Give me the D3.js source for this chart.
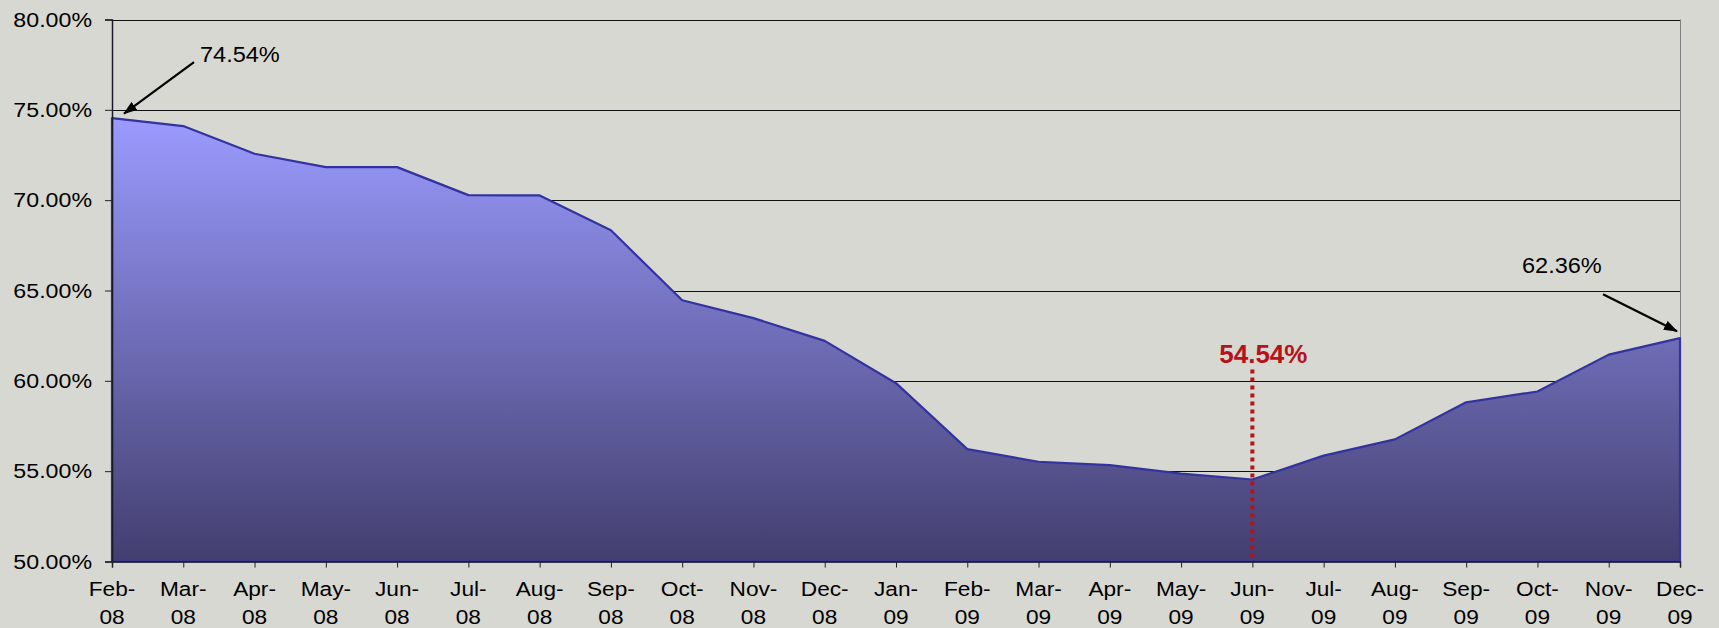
<!DOCTYPE html>
<html>
<head>
<meta charset="utf-8">
<script src="https://cdn.jsdelivr.net/npm/d3@7"></script>
<style>
  html, body { margin: 0; padding: 0; background: #d8d8d2; }
  svg { display: block; }
  text { font-family: "Liberation Sans", Arial, sans-serif; fill: #000; }
</style>
</head>
<body>
<svg id="chart" width="1719" height="628"></svg>
<script>
const months = ["Feb-08","Mar-08","Apr-08","May-08","Jun-08","Jul-08","Aug-08","Sep-08","Oct-08","Nov-08","Dec-08","Jan-09",
                "Feb-09","Mar-09","Apr-09","May-09","Jun-09","Jul-09","Aug-09","Sep-09","Oct-09","Nov-09","Dec-09"];
const values = [74.54, 74.10, 72.57, 71.83, 71.83, 70.28, 70.26, 68.33, 64.46, 63.47, 62.21, 59.87,
                56.22, 55.52, 55.33, 54.86, 54.54, 55.86, 56.76, 58.81, 59.41, 61.45, 62.36];
const yTicks = [50, 55, 60, 65, 70, 75, 80];
const startLabel = "74.54%";
const endLabel = "62.36%";
const minLabel = "54.54%";

(function () {
const data = months.map((m, i) => ({ m, v: values[i] }));

const svg = d3.select("#chart");
const pL = 112, pR = 1680, pT = 19.5, pB = 561.5;

const x = d3.scalePoint().domain(months).range([pL, pR]).padding(0);
const y = d3.scaleLinear().domain([50, 80]).range([pB, pT]);

// gradient
const defs = svg.append("defs");
const grad = defs.append("linearGradient").attr("id", "areaGrad")
  .attr("gradientUnits", "userSpaceOnUse")
  .attr("x1", 0).attr("x2", 0).attr("y1", y(d3.max(values))).attr("y2", y(50));
grad.append("stop").attr("offset", "0%").attr("stop-color", "#9b9bff");
grad.append("stop").attr("offset", "100%").attr("stop-color", "#423e6e");

defs.append("marker").attr("id", "arrowHead")
  .attr("viewBox", "0 0 14 10").attr("refX", 13).attr("refY", 5)
  .attr("markerWidth", 14).attr("markerHeight", 10).attr("markerUnits", "userSpaceOnUse")
  .attr("orient", "auto")
  .append("path").attr("d", "M0,0 L14,5 L0,10 Z").attr("fill", "#000");

// gridlines
svg.append("g").selectAll("line").data(yTicks.filter(t => t > 50)).join("line")
  .attr("x1", pL).attr("x2", pR)
  .attr("y1", d => Math.round(y(d)) + 0.5).attr("y2", d => Math.round(y(d)) + 0.5)
  .attr("stroke", "#111").attr("stroke-width", 1);

// right border
svg.append("line").attr("x1", pR + 0.5).attr("x2", pR + 0.5)
  .attr("y1", y(80)).attr("y2", y(50)).attr("stroke", "#808080").attr("stroke-width", 1);

// area
const area = d3.area().x(d => x(d.m)).y0(y(50)).y1(d => y(d.v));
svg.append("path").datum(data).attr("d", area)
  .attr("fill", "url(#areaGrad)")
  .attr("stroke", "#3333a0").attr("stroke-width", 2.2).attr("stroke-linejoin", "round");

// axes
const yAxis = d3.axisLeft(y).tickValues(yTicks).tickSize(7).tickFormat("");
const gy = svg.append("g").attr("transform", `translate(${pL},0)`).call(yAxis);
gy.select(".domain").attr("stroke", "#1a1a2e").attr("stroke-width", 1.5);
gy.selectAll(".tick line").attr("stroke", "#222");

const xAxis = d3.axisBottom(x).tickSize(6).tickFormat("");
const gx = svg.append("g").attr("transform", `translate(0,${pB})`).call(xAxis);
gx.select(".domain").attr("stroke", "#1a1a2e").attr("stroke-width", 1.5);
gx.selectAll(".tick line").attr("stroke", "#222");

// y labels
const ySX = 1.16;
svg.append("g").selectAll("text").data(yTicks).join("text")
  .attr("transform", d => `translate(${pL - 20},${y(d) + 7}) scale(${ySX},1)`)
  .attr("text-anchor", "end").attr("font-size", 20)
  .text(d => d.toFixed(2) + "%");

// x labels
const xSX = 1.08;
const xl = svg.append("g").selectAll("text").data(months).join("text")
  .attr("transform", d => `translate(${x(d)},0) scale(${xSX},1)`)
  .attr("text-anchor", "middle").attr("font-size", 21);
xl.append("tspan").attr("x", 0).attr("y", 596.5).text(d => d.split("-")[0] + "-");
xl.append("tspan").attr("x", 0).attr("y", 624).text(d => d.split("-")[1]);

// start annotation
const p0 = { x: x(months[0]), y: y(values[0]) };
svg.append("line")
  .attr("x1", p0.x + 82).attr("y1", p0.y - 56)
  .attr("x2", p0.x + 12).attr("y2", p0.y - 4.5)
  .attr("stroke", "#000").attr("stroke-width", 2.2).attr("marker-end", "url(#arrowHead)");
svg.append("text").attr("transform", `translate(${p0.x + 88},${p0.y - 56}) scale(1.07,1)`)
  .attr("font-size", 22).text(startLabel);

// end annotation
const pn = { x: x(months[months.length - 1]), y: y(values[values.length - 1]) };
svg.append("line")
  .attr("x1", pn.x - 77).attr("y1", pn.y - 44)
  .attr("x2", pn.x - 3).attr("y2", pn.y - 7)
  .attr("stroke", "#000").attr("stroke-width", 2.2).attr("marker-end", "url(#arrowHead)");
svg.append("text").attr("transform", `translate(${pn.x - 158},${pn.y - 65}) scale(1.07,1)`)
  .attr("font-size", 22).text(endLabel);

// min annotation
const iMin = values.indexOf(d3.min(values));
const pm = { x: x(months[iMin]), y: y(values[iMin]) };
svg.append("line")
  .attr("x1", pm.x).attr("x2", pm.x)
  .attr("y1", pm.y - 110).attr("y2", y(50))
  .attr("stroke", "#b5121b").attr("stroke-width", 4).attr("stroke-dasharray", "4,4");
svg.append("text").attr("x", pm.x + 11).attr("y", pm.y - 116)
  .attr("text-anchor", "middle").attr("font-size", 26).attr("font-weight", "bold")
  .style("fill", "#b5121b").text(minLabel);
})();
</script>
</body>
</html>
